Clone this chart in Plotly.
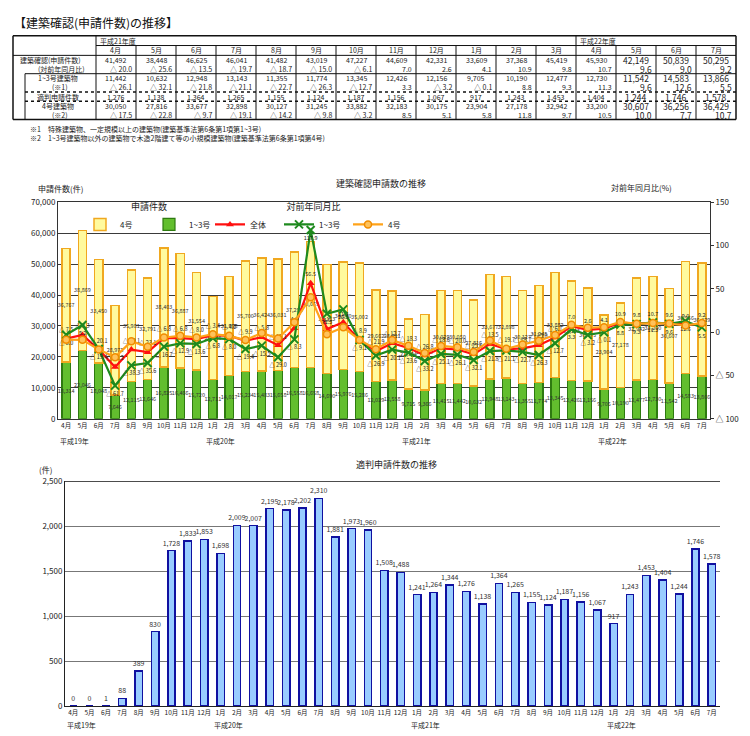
import plotly.graph_objects as go

W, H = 750, 736
JP = "Noto Sans CJK JP"

# ------------------------------------------------------------------ data
months = (["4月", "5月", "6月", "7月", "8月", "9月", "10月", "11月", "12月", "1月", "2月", "3月"] * 3
          + ["4月", "5月", "6月", "7月"])
year_labels = ["平成19年", "平成20年", "平成21年", "平成22年"]
year_label_pos = [0, 9, 21, 33]

# 申請件数 (1~3号建築物)
apps_13 = [18314, 22046, 18048, 7646, 12115, 12646, 16825, 16466, 15720, 12711, 14017, 15234,
           15483, 15658, 16558, 16658, 14690, 15976, 15286, 12029, 12558, 9715, 9366, 11415,
           11442, 10632, 12948, 13143, 11355, 11774, 13345, 12426, 12156, 9705, 10190, 12477,
           12730, 11542, 14583, 13866]
# 申請件数 (4号建築物)
apps_4 = [36767, 38869, 33450, 28972, 35981, 32791, 38403, 36887, 31554, 26848, 31998, 35700,
          36424, 36031, 37295, 40665, 35113, 34640, 35002, 29662, 28711, 22594, 24310, 30029,
          30050, 27816, 33677, 32898, 30127, 31245, 33882, 32183, 30175, 23904, 27178, 32942,
          33200, 30607, 36256, 36429]
# 対前年同月比 (%)
yoy_total = [-7.5, -3.3, -20.1, -40.2, -20.1, -23.1, -6.8, -6.8, -8.0, -3.4, -4.2, -9.9,
             -5.8, -15.1, 4.6, 56.5, 3.5, 11.4, -8.9, -21.9, -12.7, -18.3, -26.8, -18.6,
             -20.0, -25.6, -13.5, -19.7, -18.7, -15.0, -6.1, 7.0, 2.6, 4.1, 10.9, 9.8,
             10.7, 9.6, 9.0, 9.2]
yoy_13 = [-3.0, 8.2, -19.4, -61.7, -38.3, -35.6, -16.7, -12.9, -13.6, -6.8, -8.0, -19.4,
          -15.5, -29.0, -8.3, 117.9, 21.3, 26.3, -9.1, -26.9, -20.1, -23.6, -33.2, -25.1,
          -26.1, -32.1, -21.8, -21.1, -22.7, -26.3, -12.7, 3.3, -3.2, -0.1, 8.8, 9.3,
          11.3, 9.6, 12.6, 5.5]
yoy_4 = [-8.7, -8.8, -20.1, -28.8, -10.6, -16.7, -6.1, -4.2, -6.1, -2.3, -4.2, -9.1,
         -0.9, -7.3, 11.5, 40.4, -2.4, 5.6, -8.9, -19.6, -9.0, -15.8, -24.0, -15.9,
         -17.5, -22.8, -9.7, -19.1, -14.2, -9.8, -3.2, 8.5, 5.1, 5.8, 11.8, 9.7,
         10.5, 10.0, 7.7, 10.7]
# 適判申請件数
tekihan = [0, 0, 1, 88, 389, 830, 1728, 1833, 1853, 1698, 2009, 2007,
           2195, 2178, 2202, 2310, 1881, 1973, 1960, 1508, 1488, 1241, 1264, 1344,
           1276, 1138, 1364, 1265, 1155, 1124, 1187, 1156, 1067, 917, 1243, 1453,
           1404, 1244, 1746, 1578]

T0 = 24  # table starts at 平成21年度 4月
table_fy_labels = ["平成21年度", "平成22年度"]
table_fy_start = [0, 12]

# ------------------------------------------------------------------ helpers
def px(x):
    return x / W


def py(y):
    return 1 - y / H


def fint(v):
    return f"{v:,}"


def fpct(v):
    return f"△ {abs(v):.1f}" if v < 0 else f"{v:.1f}"


x = list(range(len(months)))

fig = go.Figure()

# ------------------------------------------------------------------ top chart
fig.add_trace(go.Bar(
    x=x, y=apps_13, name="1~3号", legend="legend",
    marker=dict(color="#62BE2E", line=dict(color="#2E7A10", width=1.2)),
    text=[fint(v) for v in apps_13], textposition="inside", insidetextanchor="middle",
    textangle=0, constraintext="none", textfont=dict(size=5.5, color="#333", family=JP),
    xaxis="x", yaxis="y", width=0.5))
fig.add_trace(go.Bar(
    x=x, y=apps_4, name="4号", legend="legend",
    marker=dict(color="#FFFA9E", line=dict(color="#F0A820", width=1.5)),
    text=[fint(v) for v in apps_4], textposition="inside", insidetextanchor="middle",
    textangle=0, constraintext="none", textfont=dict(size=5.5, color="#333", family=JP),
    xaxis="x", yaxis="y", width=0.5))

fig.add_trace(go.Scatter(
    x=x, y=yoy_total, name="全体", legend="legend2", mode="lines+markers+text",
    line=dict(color="#FF1010", width=2.2),
    marker=dict(symbol="triangle-up", size=7, color="#FF1010"),
    text=[fpct(v) for v in yoy_total], textposition="top center",
    textfont=dict(size=5.5, color="#222", family=JP),
    xaxis="x", yaxis="y2", cliponaxis=False))
fig.add_trace(go.Scatter(
    x=x, y=yoy_13, name="1~3号", legend="legend2", mode="lines+markers+text",
    line=dict(color="#1E8A1E", width=2.2),
    marker=dict(symbol="x-thin", size=8, line=dict(color="#1E8A1E", width=2)),
    text=[fpct(v) for v in yoy_13], textposition="bottom center",
    textfont=dict(size=5.5, color="#222", family=JP),
    xaxis="x", yaxis="y2", cliponaxis=False))
fig.add_trace(go.Scatter(
    x=x, y=yoy_4, name="4号", legend="legend2", mode="lines+markers",
    line=dict(color="#FFA31A", width=2.2),
    marker=dict(symbol="circle", size=7, color="#FFC25A", line=dict(color="#F08C00", width=1.5)),
    xaxis="x", yaxis="y2", cliponaxis=False))

# ------------------------------------------------------------------ bottom chart
fig.add_trace(go.Bar(
    x=x, y=tekihan, name="適判申請件数", showlegend=False,
    marker=dict(color="#99CCFF", line=dict(color="#1010A0", width=1.5)),
    text=[fint(v) for v in tekihan], textposition="outside", cliponaxis=False,
    constraintext="none", textangle=0,
    textfont=dict(size=7, color="#333", family=JP),
    xaxis="x2", yaxis="y3", width=0.45))

axis_font = dict(size=8, color="#222", family=JP)
fig.update_layout(
    width=W, height=H, margin=dict(l=0, r=0, t=0, b=0),
    paper_bgcolor="white", plot_bgcolor="white",
    font=dict(family=JP, color="#222"),
    barmode="stack", bargap=0.5,
    xaxis=dict(domain=[px(50), px(702)], range=[-0.5, 39.5], tickvals=x, ticktext=months,
               tickfont=dict(size=6.5, color="#222", family=JP), showline=True, mirror=True,
               linecolor="#333", linewidth=1, showgrid=False, ticks="", anchor="y"),
    yaxis=dict(domain=[py(411), py(191)], range=[0, 70000], dtick=10000, tickformat=",",
               tickfont=axis_font, showgrid=True, gridcolor="#3a3a3a", gridwidth=1.2,
               showline=True, mirror=True, linecolor="#333", linewidth=1, zeroline=False,
               anchor="x"),
    yaxis2=dict(overlaying="y", side="right", range=[-100, 150],
                tickvals=[-100, -50, 0, 50, 100, 150],
                ticktext=["△ 100", "△ 50", "0", "50", "100", "150"],
                tickfont=axis_font, showgrid=False, zeroline=False, ticks="outside",
                ticklen=3, tickcolor="#333", anchor="x"),
    xaxis2=dict(domain=[px(57), px(712)], range=[-0.5, 39.5], tickvals=x, ticktext=months,
                tickfont=dict(size=6.5, color="#222", family=JP), showline=True,
                linecolor="#222", linewidth=1, showgrid=False, ticks="", anchor="y3"),
    yaxis3=dict(domain=[py(702.7), py(474.3)], range=[0, 2500], dtick=500, tickformat=",",
                tickfont=axis_font, showgrid=True, gridcolor="#777", gridwidth=1,
                showline=True, linecolor="#222", linewidth=1, zeroline=False, anchor="x2"),
    legend=dict(x=px(72), y=py(187), xanchor="left", yanchor="top", orientation="h",
                traceorder="reversed", bgcolor="rgba(0,0,0,0)",
                font=dict(size=8, family=JP), itemwidth=30,
                entrywidth=24, entrywidthmode="pixels",
                title=dict(text="申請件数", side="top center", font=dict(size=9, family=JP))),
    legend2=dict(x=px(202), y=py(187), xanchor="left", yanchor="top", orientation="h",
                 bgcolor="rgba(0,0,0,0)", font=dict(size=8, family=JP), itemwidth=30,
                 entrywidth=24, entrywidthmode="pixels",
                 title=dict(text="対前年同月比", side="top center", font=dict(size=9, family=JP))),
)

ann = []
shapes = []


def text(xx, yy, s, size=8, anchor="center", bold=False, color="#222"):
    ann.append(dict(x=px(xx), y=py(yy), xref="paper", yref="paper", text=(f"<b>{s}</b>" if bold else s),
                    showarrow=False, xanchor=anchor, yanchor="middle",
                    font=dict(size=size, family=JP, color=color)))


# titles
text(4, 9, "【建築確認(申請件数)の推移】", size=12, anchor="left", color="#111")
text(373, 172, "建築確認申請数の推移", size=9)
text(28, 177, "申請件数(件)", size=8, anchor="left")
text(633, 176, "対前年同月比(%)", size=8)
text(388, 457, "適判申請件数の推移", size=9)
text(37, 462, "(件)", size=8)

# year labels under both charts
for lab, i in zip(year_labels, year_label_pos):
    ann.append(dict(x=i, y=py(433), xref="x", yref="paper", text=lab, showarrow=False,
                    xshift=8, yanchor="middle", font=dict(size=7, family=JP)))
    ann.append(dict(x=i, y=py(722), xref="x2", yref="paper", text=lab, showarrow=False,
                    xshift=8, yanchor="middle", font=dict(size=7, family=JP)))

# top line of bottom chart
shapes.append(dict(type="line", xref="x2 domain", yref="y3", x0=0, x1=1, y0=2500, y1=2500,
                   line=dict(color="#111", width=1.5)))

# ------------------------------------------------------------------ table
TX0, TX1, LX = 5, 728, 88
inner = 17
col_w = (TX1 - LX) / 16
yr = [22, 32, 42, 51.3, 60.6, 69.9, 79.2, 88.5, 97.8, 107.1]


def hl(x0, x1, y, w=1, dash="solid"):
    shapes.append(dict(type="line", xref="paper", yref="paper", x0=px(x0), x1=px(x1),
                       y0=py(y), y1=py(y), line=dict(color="#111", width=w, dash=dash)))


def vl(xx, y0, y1, w=1):
    shapes.append(dict(type="line", xref="paper", yref="paper", x0=px(xx), x1=px(xx),
                       y0=py(y0), y1=py(y1), line=dict(color="#111", width=w)))


hl(TX0, TX1, yr[0], 1.5)
hl(TX0, TX1, yr[-1], 1.5)
vl(TX0, yr[0], yr[-1], 1.5)
vl(TX1, yr[0], yr[-1], 1.5)
hl(LX, TX1, yr[1])
hl(TX0, TX1, yr[2])
hl(inner, TX1, yr[4])
hl(inner, TX1, yr[6], 1.5, "dot")
hl(inner, TX1, yr[7], 1.5, "dot")
vl(inner, yr[4], yr[-1])
vl(LX, yr[0], yr[-1])
for k in range(1, 16):
    top = yr[0] if k in table_fy_start else yr[1]
    vl(LX + k * col_w, top, yr[-1])

for lab, k in zip(table_fy_labels, table_fy_start):
    text(LX + k * col_w + 2, (yr[0] + yr[1]) / 2, lab, size=7, anchor="left")

t_months = months[T0:]
t13 = apps_13[T0:]
t4 = apps_4[T0:]
t_total = [a + b for a, b in zip(t13, t4)]
rows = [
    ("建築確認(申請件数)", 42, t_total, "int"),
    ("(対前年同月比)", 53, yoy_total[T0:], "pct"),
    ("1~3号建築物", 50, t13, "int"),
    ("(※1)", 52, yoy_13[T0:], "pct"),
    ("適判申請件数", 50, tekihan[T0:], "int"),
    ("4号建築物", 50, t4, "int"),
    ("(※2)", 52, yoy_4[T0:], "pct"),
]
for k, m in enumerate(t_months):
    text(LX + (k + 0.5) * col_w, (yr[1] + yr[2]) / 2, m, size=7)
for r, (lab, lx, vals, kind) in enumerate(rows):
    yc = (yr[r + 2] + yr[r + 3]) / 2
    text(lx, yc, lab, size=7)
    for k, v in enumerate(vals):
        big = k >= 13
        sz = 8.5 if big else 7
        if kind == "int":
            text(LX + (k + 0.5) * col_w, yc, fint(v), size=sz)
        else:
            text(LX + (k + 1) * col_w - 2, yc, fpct(v), size=sz, anchor="right")

text(20, 117, "※1　特殊建築物、一定規模以上の建築物(建築基準法第6条第1項第1~3号)", size=7, anchor="left")
text(20, 126, "※2　1~3号建築物以外の建築物で木造2階建て等の小規模建築物(建築基準法第6条第1項第4号)",
     size=7, anchor="left")

fig.update_layout(annotations=ann, shapes=shapes)
fig.write_html("out.html")
